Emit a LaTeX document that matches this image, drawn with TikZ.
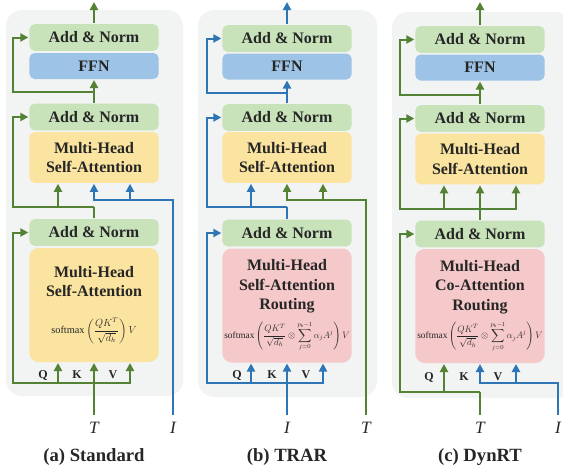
\documentclass[tikz,border=0pt]{standalone}
\usepackage{amsmath}
\usepackage{graphicx}
\usepackage{fontspec}
\setmainfont{Liberation Serif}
\usepackage{tikz}
\usetikzlibrary{arrows.meta,positioning}

\definecolor{arrgreen}{RGB}{84,130,53}
\definecolor{arrblue}{RGB}{46,117,182}
\definecolor{boxgreen}{RGB}{200,226,186}
\definecolor{boxblue}{RGB}{157,195,230}
\definecolor{boxyellow}{RGB}{250,228,160}
\definecolor{boxpink}{RGB}{245,200,201}
\definecolor{bggray}{RGB}{242,243,243}
\definecolor{txtgray}{RGB}{38,38,38}

\newcommand{\formstd}{{\normalfont\resizebox{64pt}{!}{%
  $\displaystyle\text{softmax}\left(\frac{QK^{T}}{\sqrt{d_h}}\right)V$}}}
\newcommand{\formrout}{{\normalfont\resizebox{94pt}{!}{%
  $\displaystyle\text{softmax}\left(\frac{QK^{T}}{\sqrt{d_h}}\otimes\sum_{j=0}^{p_b-1}\alpha_j A^j\right)V$}}}

\begin{document}
\begin{tikzpicture}[x=0.75pt,y=-0.75pt,>={Triangle[length=6pt,width=6pt]},
line width=1.5pt, font=\bfseries\fontsize{12}{14.5}\selectfont]
   \tikzstyle{blk}=[draw=none,rounded corners=4pt,minimum width=97pt,text=txtgray,align=center,inner sep=1pt]
   \tikzstyle{addnorm}=[blk,fill=boxgreen,minimum height=20pt]
   \tikzstyle{ffn}=[blk,fill=boxblue,minimum height=19.5pt]
   \tikzstyle{attn}=[blk,minimum height=38pt]
   \tikzstyle{bigbox}=[blk,rounded corners=7pt,minimum height=85.5pt]
   \tikzstyle{qkv}=[text=txtgray,font=\bfseries\fontsize{9}{10}\selectfont]
   \tikzstyle{io}=[text=txtgray,font=\itshape\fontsize{13}{14}\selectfont]
   \tikzstyle{captxt}=[text=txtgray,font=\bfseries\fontsize{14}{16}\selectfont]
\useasboundingbox (0,0) rectangle (563,475);

% backgrounds
\fill[bggray,rounded corners=12pt] (6,10) rectangle (183,396);
\fill[bggray,rounded corners=12pt] (198,10) rectangle (377,397);
\fill[bggray,rounded corners=12pt] (392,12) rectangle (572,398);

% (a) Standard
\node[addnorm] (an1a) at (94,37.5) {Add \& Norm};
\node[ffn] (ffna) at (94,66) {FFN};
\node[addnorm] (an2a) at (94,117) {Add \& Norm};
\node[attn,fill=boxyellow] (mhaa) at (94,157.5) {Multi-Head\\Self-Attention};
\node[addnorm] (an3a) at (94,232.5) {Add \& Norm};
\node[bigbox,fill=boxyellow] (cora) at (94,305) {Multi-Head\\Self-Attention\\[13pt]\formstd};
\node[qkv] (qa) at (43,375) {Q};
\node[qkv] (ka) at (77,375) {K};
\node[qkv] (va) at (113,375) {V};
\coordinate (outa) at (94,2);
\coordinate (j1a) at (94,92);
\coordinate (j2a) at (94,207);
\coordinate (j3a) at (94,200);
\coordinate (j4a) at (94,383);
\coordinate (Ta) at (94,415);
\coordinate (Ia) at (173,415);
\node[io] (tla) at (94,428) {T};
\node[io] (ila) at (173,428) {I};
\node[captxt] (capa) at (94,457) {(a) Standard};

\draw[->,arrgreen] (an1a.north) -- (outa);
\draw[->,arrgreen] (an2a.north) -- (ffna.south);
\draw[->,arrgreen] (j1a) -| ([xshift=-11.25pt]an1a.west) -- (an1a.west);
\draw[arrgreen] (an3a.north) -- (j2a);
\draw[->,arrgreen] (j2a) -| ([xshift=-11.25pt]an2a.west) -- (an2a.west);
\draw[->,arrgreen] ([xshift=-27pt]j2a) -- ([xshift=-27pt]mhaa.south);
\draw[->,arrblue] (Ia) |- (j3a) -- (mhaa.south);
\draw[->,arrblue] (j3a) -| ([xshift=27pt]mhaa.south);
\draw[->,arrgreen] (Ta) -- (cora.south);
\draw[->,arrgreen] (j4a) -| ([xshift=-11.25pt]an3a.west) -- (an3a.west);
\draw[->,arrgreen] ([xshift=-27pt]j4a) -- ([xshift=-27pt]cora.south);
\draw[->,arrgreen] (j4a) -| ([xshift=27pt]cora.south);

% (b) TRAR
\node[addnorm] (an1b) at (287,38.5) {Add \& Norm};
\node[ffn] (ffnb) at (287,66.5) {FFN};
\node[addnorm] (an2b) at (287,117.5) {Add \& Norm};
\node[attn,fill=boxyellow] (mhab) at (287,157.5) {Multi-Head\\Self-Attention};
\node[addnorm] (an3b) at (287,233) {Add \& Norm};
\node[bigbox,fill=boxpink] (corb) at (287,305.5) {Multi-Head\\Self-Attention\\Routing\\[5pt]\formrout};
\node[qkv] (qb) at (237,375) {Q};
\node[qkv] (kb) at (272,375) {K};
\node[qkv] (vb) at (306,375) {V};
\coordinate (outb) at (287,2);
\coordinate (j1b) at (287,93);
\coordinate (j2b) at (287,207);
\coordinate (j3b) at (287,200);
\coordinate (j4b) at (287,383);
\coordinate (Ib) at (287,415);
\coordinate (Tb) at (366,415);
\node[io] (ilb) at (287,428) {I};
\node[io] (tlb) at (366,428) {T};
\node[captxt] (capb) at (287,457) {(b) TRAR};

\draw[->,arrblue] (an1b.north) -- (outb);
\draw[->,arrblue] (an2b.north) -- (ffnb.south);
\draw[->,arrblue] (j1b) -| ([xshift=-10.5pt]an1b.west) -- (an1b.west);
\draw[arrblue] (an3b.north) -- (j2b);
\draw[->,arrblue] (j2b) -| ([xshift=-10.5pt]an2b.west) -- (an2b.west);
\draw[->,arrblue] ([xshift=-27pt]j2b) -- ([xshift=-27pt]mhab.south);
\draw[->,arrgreen] (Tb) |- (j3b) -- (mhab.south);
\draw[->,arrgreen] (j3b) -| ([xshift=27pt]mhab.south);
\draw[->,arrblue] (Ib) -- (corb.south);
\draw[->,arrblue] (j4b) -| ([xshift=-10.5pt]an3b.west) -- (an3b.west);
\draw[->,arrblue] ([xshift=-27pt]j4b) -- ([xshift=-27pt]corb.south);
\draw[->,arrblue] (j4b) -| ([xshift=27pt]corb.south);

% (c) DynRT
\node[addnorm] (an1c) at (480,39.5) {Add \& Norm};
\node[ffn] (ffnc) at (480,67.5) {FFN};
\node[addnorm] (an2c) at (480,118.5) {Add \& Norm};
\node[attn,fill=boxyellow] (mhac) at (480,159) {Multi-Head\\Self-Attention};
\node[addnorm] (an3c) at (480,234) {Add \& Norm};
\node[bigbox,fill=boxpink] (corc) at (480,306) {Multi-Head\\Co-Attention\\Routing\\[5pt]\formrout};
\node[qkv] (qc) at (429,377) {Q};
\node[qkv] (kc) at (464,377) {K};
\node[qkv] (vc) at (498,377) {V};
\coordinate (outc) at (480,2);
\coordinate (j1c) at (480,95);
\coordinate (j2c) at (480,209);
\coordinate (j4c) at (480,392);
\coordinate (j5c) at (480,383);
\coordinate (Tc) at (480,415);
\coordinate (Ic) at (558,415);
\node[io] (tlc) at (480,428) {T};
\node[io] (ilc) at (558,428) {I};
\node[captxt] (capc) at (480,457) {(c) DynRT};

\draw[->,arrgreen] (an1c.north) -- (outc);
\draw[->,arrgreen] (an2c.north) -- (ffnc.south);
\draw[->,arrgreen] (j1c) -| ([xshift=-10.5pt]an1c.west) -- (an1c.west);
\draw[arrgreen] (an3c.north) -- (j2c);
\draw[->,arrgreen] (j2c) -| ([xshift=-10.5pt]an2c.west) -- (an2c.west);
\draw[->,arrgreen] ([xshift=-27pt]j2c) -- ([xshift=-27pt]mhac.south);
\draw[->,arrgreen] (j2c) -- (mhac.south);
\draw[->,arrgreen] (j2c) -| ([xshift=27pt]mhac.south);
\draw[arrgreen] (Tc) -- (j4c);
\draw[->,arrgreen] (j4c) -| ([xshift=-10.5pt]an3c.west) -- (an3c.west);
\draw[->,arrgreen] ([xshift=-27pt]j4c) -- ([xshift=-27pt]corc.south);
\draw[->,arrblue] (Ic) |- (j5c) -- (corc.south);
\draw[->,arrblue] (j5c) -| ([xshift=27pt]corc.south);
\end{tikzpicture}
\end{document}
